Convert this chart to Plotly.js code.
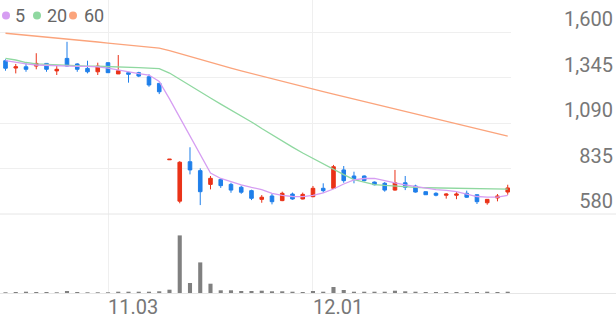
<!DOCTYPE html>
<html>
<head>
<meta charset="utf-8">
<script src="https://cdn.plot.ly/plotly-3.0.1.min.js"></script>
<style>html,body{margin:0;padding:0;background:#fff;}#chart{width:616px;height:321px;}</style>
</head>
<body>
<div id="chart"></div>
<script>
const dates = ['10.20','10.21','10.22','10.23','10.24','10.27','10.28','10.29','10.30','10.31',
  '11.03','11.04','11.05','11.06','11.07','11.10','11.11','11.12','11.13','11.14',
  '11.17','11.18','11.19','11.20','11.21','11.24','11.25','11.26','11.27','11.28',
  '12.01','12.02','12.03','12.04','12.05','12.08','12.09','12.10','12.11','12.12',
  '12.15','12.16','12.17','12.18','12.19','12.22','12.23','12.24','12.26','12.29'];
const open  = [1439,1398,1405,1409,1424,1382,1452,1421,1396,1377,1428,1365,1372,1372,1349,1312,884,652,873,823,
  746,774,746,730,711,662,681,655,692,664,677,724,724,827,793,793,759,752,714,755,
  737,705,696,685,685,696,688,643,670,703];
const high  = [1447,1421,1425,1481,1426,1415,1545,1425,1439,1428,1430,1471,1377,1377,1363,1315,887,876,954,836,
  793,780,755,739,716,686,694,705,700,700,737,752,855,849,817,796,762,759,827,793,
  744,706,702,696,702,711,689,662,692,744];
const low   = [1383,1368,1377,1391,1377,1359,1405,1377,1368,1359,1370,1365,1316,1347,1293,1252,884,640,802,630,
  718,726,699,693,658,643,634,652,660,662,674,699,724,755,752,763,741,705,711,714,
  700,688,679,666,663,670,636,632,651,688];
const close = [1397,1405,1391,1424,1391,1391,1409,1391,1377,1409,1372,1383,1363,1353,1303,1265,887,870,827,705,
  780,739,714,702,668,674,649,696,664,690,724,711,845,767,778,767,744,714,755,730,
  703,688,685,692,692,674,649,662,681,726];
const ma5  = [1439,1429,1421,1415,1412,1409,1409,1407,1407,1405,1398,1387,1377,1367,1359,1323,1225,1121,1017,911,
  810,779,759,743,729,717,695,684,678,677,684,698,720,748,771,779,780,765,754,743,
  734,726,717,712,706,692,678,675,675,684];
const ma20 = [1452,1443,1429,1421,1418,1415,1412,1410,1409,1408,1407,1404,1402,1400,1398,1395,1370,1334,1297,1264,
  1230,1196,1163,1129,1096,1059,1023,989,955,922,891,860,832,801,773,757,745,740,735,731,
  729,727,726,725,723,722,721,720,720,719];
const ma60 = [1593,1588,1582,1577,1571,1566,1560,1555,1549,1544,1538,1533,1527,1522,1516,1510,1495,1478,1461,1445,
  1429,1413,1397,1382,1367,1352,1337,1322,1308,1294,1280,1266,1252,1238,1225,1211,1197,1183,1170,1156,
  1142,1128,1114,1100,1087,1073,1059,1045,1031,1017];
const volume = [70,100,130,100,100,70,200,100,70,70,70,130,130,130,130,170,330,5760,1000,3060,
  930,270,270,200,200,230,170,170,130,100,200,130,600,300,130,130,130,130,230,170,
  130,100,100,100,100,100,100,130,100,130];
const priceTicks = [580,835,1090,1345,1600];
const priceTickText = ['580','835','1,090','1,345','1,600'];
const dateTicks = ['11.03','12.01'];
const maNames = ['5','20','60'];
const maColors = ['#d69ef2','#8fd8a0','#fba47c'];
const upColor = '#ea3218', downColor = '#1f7fea';

const W = 616, H = 321;
const px = x => x / W, py = y => 1 - y / H;
const priceBottom = 580, pxPerUnit = 182 / 1020;
const priceTop = priceBottom + 214 / pxPerUnit;
const xRange = [-0.537, 49.32];

const traces = [
  {type:'bar', x:dates, y:volume, xaxis:'x2', yaxis:'y2', marker:{color:'#808080'}, hoverinfo:'skip', showlegend:false},
  {type:'scatter', mode:'lines', x:dates, y:ma60, line:{color:maColors[2], width:1.3}, hoverinfo:'skip', showlegend:false},
  {type:'scatter', mode:'lines', x:dates, y:ma20, line:{color:maColors[1], width:1.3}, hoverinfo:'skip', showlegend:false},
  {type:'scatter', mode:'lines', x:dates, y:ma5, line:{color:maColors[0], width:1.3}, hoverinfo:'skip', showlegend:false},
  {type:'candlestick', x:dates, open:open, high:high, low:low, close:close, whiskerwidth:0,
   increasing:{line:{color:upColor, width:1}, fillcolor:upColor},
   decreasing:{line:{color:downColor, width:1}, fillcolor:downColor},
   hoverinfo:'skip', showlegend:false},
  {type:'scatter', x:[], y:[], xaxis:'x3', yaxis:'y3', hoverinfo:'skip', showlegend:false}
];

const legendShapes = [], legendAnn = [];
const circleX = [6, 37, 73], textX = [13, 45, 82];
maNames.forEach((n, i) => {
  legendShapes.push({type:'circle', xref:'paper', yref:'paper', x0:px(circleX[i]-4), x1:px(circleX[i]+4),
    y0:py(15.5+4), y1:py(15.5-4), fillcolor:maColors[i], line:{width:0}});
  legendAnn.push({xref:'paper', yref:'paper', x:px(textX[i]), y:py(15.5), xanchor:'left', yanchor:'middle',
    text:n, showarrow:false, font:{family:'Roboto', size:18, color:'#666'}});
});

const axisFont = {family:'Roboto', size:20, color:'#777'};
const layout = {
  width:W, height:H, margin:{l:0, r:0, t:0, b:0}, paper_bgcolor:'#fff', plot_bgcolor:'rgba(0,0,0,0)',
  showlegend:false, bargap:0.6, boxgap:0.5, hovermode:false,
  font:{family:'Roboto'},
  xaxis:{domain:[0, px(511)], anchor:'y', type:'category', range:xRange, tickvals:dateTicks, ticktext:dateTicks,
    showticklabels:false, showgrid:true, gridcolor:'#efefef', ticks:'', zeroline:false, rangeslider:{visible:false}, fixedrange:true},
  yaxis:{domain:[py(214), 1], anchor:'x', range:[priceBottom, priceTop], tickvals:priceTicks, showticklabels:false,
    showgrid:true, gridcolor:'#efefef', zeroline:false, ticks:'', fixedrange:true},
  xaxis2:{domain:[0, px(511)], anchor:'y2', type:'category', range:xRange, tickvals:dateTicks, ticktext:dateTicks,
    showticklabels:true, ticklabelposition:'outside right', tickfont:axisFont, showgrid:true, gridcolor:'#efefef',
    ticks:'', zeroline:false, fixedrange:true},
  yaxis2:{domain:[py(293), py(214)], anchor:'x2', range:[0, 7900], showticklabels:false, showgrid:false, zeroline:false, fixedrange:true},
  xaxis3:{domain:[0, 1], anchor:'y3', visible:false, range:[0,1], fixedrange:true},
  yaxis3:{domain:[py(214), 1], anchor:'x3', side:'right', range:[priceBottom, priceTop], tickvals:priceTicks, ticktext:priceTickText,
    ticklabelposition:'inside', ticklabelshift:-13, tickfont:axisFont, showgrid:false, zeroline:false, ticks:'', showline:false, fixedrange:true},
  shapes:[
    {type:'line', xref:'paper', yref:'paper', x0:0, x1:1, y0:py(214), y1:py(214), line:{color:'#e6e6e6', width:1}},
    {type:'line', xref:'paper', yref:'paper', x0:0, x1:1, y0:py(293.5), y1:py(293.5), line:{color:'#e6e6e6', width:1}}
  ].concat(legendShapes),
  annotations:legendAnn
};
Plotly.newPlot('chart', traces, layout, {displayModeBar:false, staticPlot:true});
</script>
</body>
</html>
